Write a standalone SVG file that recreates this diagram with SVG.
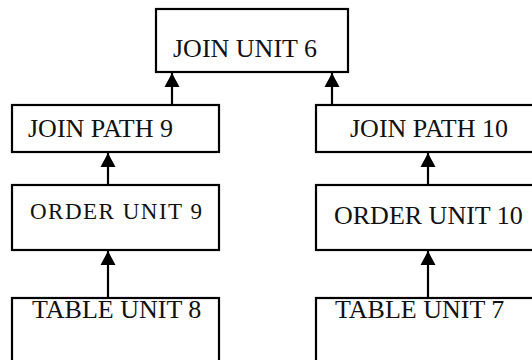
<svg xmlns="http://www.w3.org/2000/svg" width="532" height="360" viewBox="0 0 532 360">
<style>
.box{fill:#fff;stroke:#000;stroke-width:2.2}
.lbl{font-family:"Liberation Serif","Times New Roman",serif;font-size:26px;fill:#111}
.sp{font-size:23px;letter-spacing:1.5px}
.conn{stroke:#000;stroke-width:2.2;fill:none}
</style>
<defs>
<marker id="ah" markerUnits="userSpaceOnUse" markerWidth="16" markerHeight="16" viewBox="0 0 16 16" refX="14" refY="8" orient="auto">
<path d="M0,0.5 L14,8 L0,15.5 Z" fill="#000"/>
</marker>
</defs>
<rect width="532" height="360" fill="#fff"/>
<g id="connectors">
<line class="conn" x1="172" y1="105" x2="172" y2="73" marker-end="url(#ah)"/>
<line class="conn" x1="332" y1="105" x2="332" y2="73" marker-end="url(#ah)"/>
<line class="conn" x1="108" y1="185" x2="108" y2="153" marker-end="url(#ah)"/>
<line class="conn" x1="428" y1="185" x2="428" y2="153" marker-end="url(#ah)"/>
<line class="conn" x1="108" y1="298" x2="108" y2="251" marker-end="url(#ah)"/>
<line class="conn" x1="428" y1="298" x2="428" y2="251" marker-end="url(#ah)"/>
</g>
<g id="join-unit-6">
<rect class="box" x="156" y="9" width="192" height="63"/>
<text class="lbl" x="173" y="57">JOIN UNIT 6</text>
</g>
<g id="join-path-9">
<rect class="box" x="12" y="105" width="207" height="47"/>
<text class="lbl" x="28" y="137">JOIN PATH 9</text>
</g>
<g id="join-path-10">
<rect class="box" x="316" y="105" width="230" height="47"/>
<text class="lbl" x="350" y="137">JOIN PATH 10</text>
</g>
<g id="order-unit-9">
<rect class="box" x="12" y="185" width="207" height="65"/>
<text class="lbl sp" x="30" y="219">ORDER UNIT 9</text>
</g>
<g id="order-unit-10">
<rect class="box" x="316" y="185" width="230" height="65"/>
<text class="lbl" x="334" y="224">ORDER UNIT 10</text>
</g>
<g id="table-unit-8">
<rect class="box" x="12" y="298" width="207" height="100"/>
<text class="lbl" x="32" y="318">TABLE UNIT 8</text>
</g>
<g id="table-unit-7">
<rect class="box" x="316" y="298" width="230" height="100"/>
<text class="lbl" x="335" y="318">TABLE UNIT 7</text>
</g>
</svg>
